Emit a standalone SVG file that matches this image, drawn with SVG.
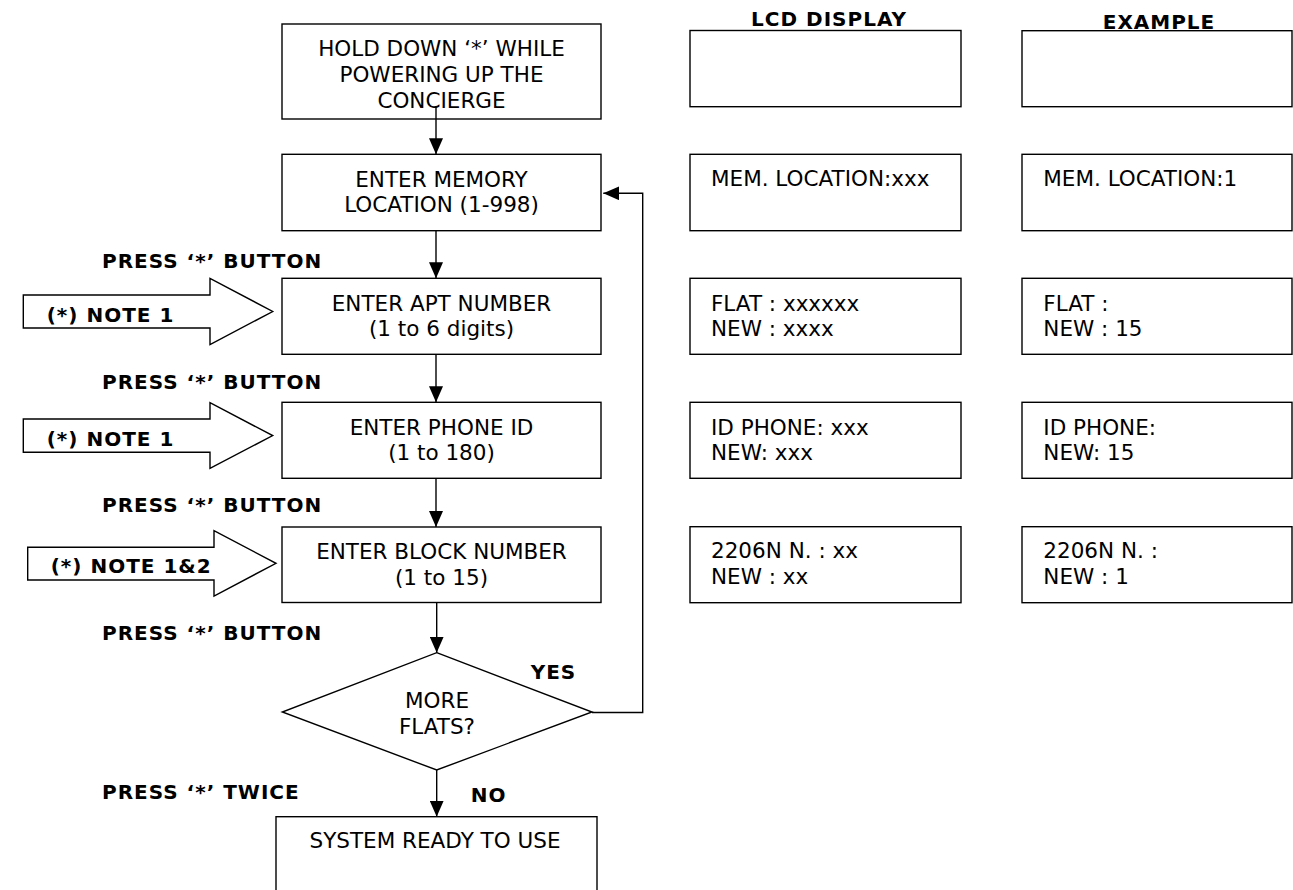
<svg xmlns="http://www.w3.org/2000/svg" width="1293" height="890" viewBox="0 0 1293 890">
<style>
  .box{fill:#fff;stroke:#000;stroke-width:1.4}
  .blk{fill:#fff;stroke:#000;stroke-width:1.4;stroke-linejoin:miter}
  .t{font-family:"DejaVu Sans",Verdana,sans-serif;font-size:21.5px;fill:#000}
  .c{text-anchor:middle}
  .b{font-family:"DejaVu Sans",Verdana,sans-serif;font-size:20px;font-weight:bold;letter-spacing:1px;fill:#000}
  .ln{fill:none;stroke:#000;stroke-width:1.4}
</style>
<defs>
  <marker id="ah" markerUnits="userSpaceOnUse" markerWidth="16" markerHeight="14" refX="16" refY="7" orient="auto">
    <path d="M0,0 L16,7 L0,14 z" fill="#000"/>
  </marker>
</defs>
<rect width="1293" height="890" fill="#fff"/>

<g id="headers">
  <text class="b c" x="829" y="26">LCD DISPLAY</text>
  <text class="b c" x="1159" y="29">EXAMPLE</text>
</g>

<g id="n-hold">
  <rect class="box" x="282" y="24" width="319" height="95"/>
  <text class="t c" x="441.5" y="56">HOLD DOWN ‘*’ WHILE</text>
  <text class="t c" x="441.5" y="82">POWERING UP THE</text>
  <text class="t c" x="441.5" y="107.5">CONCIERGE</text>
</g>
<g id="n-mem">
  <rect class="box" x="282" y="154.3" width="319" height="76.4"/>
  <text class="t c" x="441.5" y="187.3">ENTER MEMORY</text>
  <text class="t c" x="441.5" y="212">LOCATION (1-998)</text>
</g>
<g id="n-apt">
  <rect class="box" x="282" y="278.3" width="319" height="76"/>
  <text class="t c" x="441.5" y="311.3">ENTER APT NUMBER</text>
  <text class="t c" x="441.5" y="336">(1 to 6 digits)</text>
</g>
<g id="n-phone">
  <rect class="box" x="282" y="402.3" width="319" height="76"/>
  <text class="t c" x="441.5" y="435">ENTER PHONE ID</text>
  <text class="t c" x="441.5" y="460">(1 to 180)</text>
</g>
<g id="n-block">
  <rect class="box" x="282" y="527" width="319" height="75.5"/>
  <text class="t c" x="441.5" y="559">ENTER BLOCK NUMBER</text>
  <text class="t c" x="441.5" y="585">(1 to 15)</text>
</g>
<g id="n-more">
  <polygon class="box" points="436.7,652.7 592,712 436.7,770 282.3,712"/>
  <text class="t c" x="437" y="708.3">MORE</text>
  <text class="t c" x="437" y="734">FLATS?</text>
</g>
<g id="n-ready">
  <rect class="box" x="276" y="816.7" width="321" height="100"/>
  <text class="t c" x="435" y="848.3">SYSTEM READY TO USE</text>
</g>

<g id="notes">
  <polygon class="blk" points="23.3,295 210,295 210,278.3 272.7,311.5 210,344.5 210,328 23.3,328"/>
  <text class="b" x="46.7" y="321.7">(*) NOTE 1</text>
  <polygon class="blk" points="23.3,419 210,419 210,402.7 272.7,435.6 210,468.3 210,452.3 23.3,452.3"/>
  <text class="b" x="46.7" y="445.7">(*) NOTE 1</text>
  <polygon class="blk" points="27.7,547.3 214,547.3 214,530.7 276,563.3 214,596 214,580 27.7,580"/>
  <text class="b" x="50.7" y="573.3">(*) NOTE 1&amp;2</text>
</g>

<g id="labels">
  <text class="b" x="102" y="268">PRESS ‘*’ BUTTON</text>
  <text class="b" x="102" y="389.3">PRESS ‘*’ BUTTON</text>
  <text class="b" x="102" y="512.3">PRESS ‘*’ BUTTON</text>
  <text class="b" x="102" y="640">PRESS ‘*’ BUTTON</text>
  <text class="b" x="102" y="799.3">PRESS ‘*’ TWICE</text>
  <text class="b" x="530.7" y="679.3">YES</text>
  <text class="b" x="470.7" y="801.7">NO</text>
</g>

<g id="connectors">
  <line class="ln" x1="436" y1="106.7" x2="436" y2="154.3" marker-end="url(#ah)"/>
  <line class="ln" x1="436" y1="230.7" x2="436" y2="278.3" marker-end="url(#ah)"/>
  <line class="ln" x1="436" y1="354.3" x2="436" y2="402.3" marker-end="url(#ah)"/>
  <line class="ln" x1="436" y1="478.3" x2="436" y2="527" marker-end="url(#ah)"/>
  <line class="ln" x1="436.7" y1="602.5" x2="436.7" y2="652.7" marker-end="url(#ah)"/>
  <line class="ln" x1="436.7" y1="770" x2="436.7" y2="816.7" marker-end="url(#ah)"/>
  <polyline class="ln" points="592,712.5 642.7,712.5 642.7,193.3 603.3,193.3" marker-end="url(#ah)"/>
</g>

<g id="lcd1"><rect class="box" x="690" y="30.5" width="271" height="76.2"/></g>
<g id="lcd2">
  <rect class="box" x="690" y="154.3" width="271" height="76.4"/>
  <text class="t" x="711" y="186">MEM. LOCATION:xxx</text>
</g>
<g id="lcd3">
  <rect class="box" x="690" y="278.3" width="271" height="76"/>
  <text class="t" x="711" y="310.5">FLAT : xxxxxx</text>
  <text class="t" x="711" y="335.5">NEW : xxxx</text>
</g>
<g id="lcd4">
  <rect class="box" x="690" y="402.3" width="271" height="76"/>
  <text class="t" x="711" y="435">ID PHONE: xxx</text>
  <text class="t" x="711" y="460">NEW: xxx</text>
</g>
<g id="lcd5">
  <rect class="box" x="690" y="526.7" width="271" height="76"/>
  <text class="t" x="711" y="558.3">2206N N. : xx</text>
  <text class="t" x="711" y="584">NEW : xx</text>
</g>

<g id="ex1"><rect class="box" x="1022" y="30.7" width="270" height="76"/></g>
<g id="ex2">
  <rect class="box" x="1022" y="154.3" width="270" height="76.4"/>
  <text class="t" x="1043.3" y="186">MEM. LOCATION:1</text>
</g>
<g id="ex3">
  <rect class="box" x="1022" y="278.3" width="270" height="76"/>
  <text class="t" x="1043.3" y="310.5">FLAT :</text>
  <text class="t" x="1043.3" y="335.5">NEW : 15</text>
</g>
<g id="ex4">
  <rect class="box" x="1022" y="402.3" width="270" height="76"/>
  <text class="t" x="1043.3" y="435">ID PHONE:</text>
  <text class="t" x="1043.3" y="460">NEW: 15</text>
</g>
<g id="ex5">
  <rect class="box" x="1022" y="526.7" width="270" height="76"/>
  <text class="t" x="1043.3" y="558.3">2206N N. :</text>
  <text class="t" x="1043.3" y="584">NEW : 1</text>
</g>
</svg>
